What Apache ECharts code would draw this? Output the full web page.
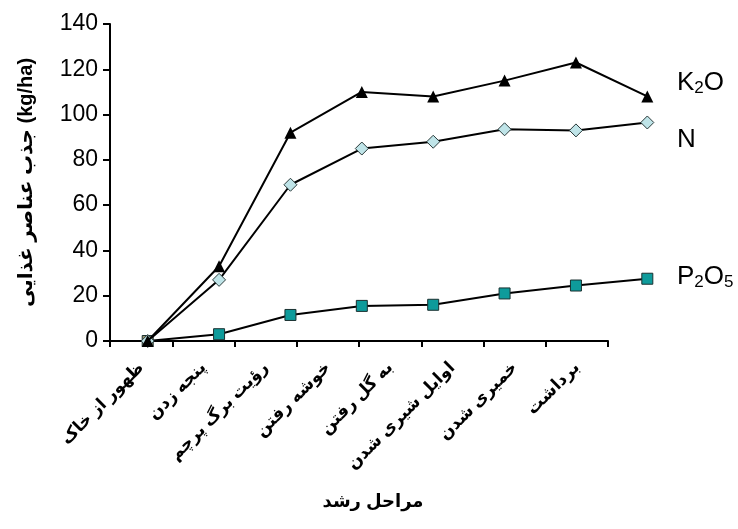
<!DOCTYPE html>
<html>
<head>
<meta charset="utf-8">
<script src="https://cdn.jsdelivr.net/npm/echarts@6/dist/echarts.min.js"></script>
<style>html,body{margin:0;padding:0;background:#fff}#c{width:738px;height:529px}</style>
</head>
<body>
<div id="c"></div>
<script>
var categories = ['ظهور از خاک','پنجه زدن','رؤیت برگ پرچم','خوشه رفتن','به گل رفتن','اوایل شیری شدن','خمیری شدن','برداشت'];
var k2o = [0, 33, 92, 110, 108, 115, 123, 108];
var nVals = [0, 27, 69, 85, 88, 93.5, 93, 96.5];
var p2o5 = [0, 3, 11.5, 15.5, 16, 21, 24.5, 27.5];
var yTicks = [0, 20, 40, 60, 80, 100, 120, 140];
var yName = 'جذب عناصر غذایی (kg/ha)';
var xName = 'مراحل رشد';

var FONT = '"Liberation Sans", Arial, "DejaVu Sans", sans-serif';
var chart = echarts.init(document.getElementById('c'));
var gTop = 24, gBottom = 188;
chart.setOption({
  animation: false,
  backgroundColor: '#fff',
  grid: [
    {left: 110, right: 130, top: gTop, bottom: gBottom},
    {left: 112, right: 55, top: gTop, bottom: gBottom}
  ],
  xAxis: [
    {type: 'category', gridIndex: 0, data: categories, boundaryGap: true,
     axisLine: {lineStyle: {color: '#000', width: 2}},
     axisTick: {show: true, length: 6, lineStyle: {color: '#000', width: 2}},
     axisLabel: {rotate: 45, margin: 24, color: '#000', fontSize: 17, fontWeight: 'bold', fontFamily: FONT, interval: 0},
     name: xName, nameLocation: 'middle', nameGap: 152,
     nameTextStyle: {color: '#000', fontSize: 18, fontWeight: 'bold', fontFamily: FONT, padding: [0, 0, 0, 28]}
    },
    {type: 'category', gridIndex: 1, data: categories, boundaryGap: true, show: false}
  ],
  yAxis: [
    {type: 'value', gridIndex: 0, min: 0, max: 140, interval: 20,
     axisLine: {show: true, lineStyle: {color: '#000', width: 2}},
     axisTick: {show: true, length: 7, lineStyle: {color: '#000', width: 2}},
     splitLine: {show: false},
     axisLabel: {color: '#000', fontSize: 23, fontFamily: FONT, margin: 12,
       formatter: function (v) { return yTicks.indexOf(v) >= 0 ? String(v) : ''; }},
     name: yName, nameLocation: 'middle', nameGap: 74, nameRotate: 90,
     nameTextStyle: {color: '#000', fontSize: 20, fontWeight: 'bold', fontFamily: FONT}
    },
    {type: 'value', gridIndex: 1, min: 0, max: 140, show: false}
  ],
  series: [
    {name: 'P2O5', type: 'line', xAxisIndex: 1, yAxisIndex: 1,
     data: p2o5.map(function (v, i) { return i === 0 ? {value: v, itemStyle: {color: '#9a9670'}} : v; }),
     symbol: 'rect', symbolSize: 11,
     lineStyle: {color: '#000', width: 2},
     itemStyle: {color: '#0e9b9b', borderColor: '#1a3030', borderWidth: 1}, z: 2},
    {name: 'N', type: 'line', xAxisIndex: 1, yAxisIndex: 1, data: nVals,
     symbol: 'diamond', symbolSize: 13,
     lineStyle: {color: '#000', width: 2},
     itemStyle: {color: '#bfe4e8', borderColor: '#2a3a3a', borderWidth: 1}, z: 3},
    {name: 'K2O', type: 'line', xAxisIndex: 1, yAxisIndex: 1, data: k2o,
     symbol: 'triangle', symbolSize: 12,
     lineStyle: {color: '#000', width: 2},
     itemStyle: {color: '#000'}, z: 4}
  ],
  graphic: [
    {type: 'text', left: 677, top: 70, style: {text: '{b|K}{s|2}{b|O}', fill: '#000',
      rich: {b: {fontSize: 26, fontFamily: FONT, fill: '#000'}, s: {fontSize: 17, fontFamily: FONT, fill: '#000', verticalAlign: 'bottom', padding: [10, 0, 0, 0]}}}},
    {type: 'text', left: 677, top: 127, style: {text: 'N', fill: '#000', font: '26px ' + FONT}},
    {type: 'text', left: 677, top: 264, style: {text: '{b|P}{s|2}{b|O}{s|5}', fill: '#000',
      rich: {b: {fontSize: 26, fontFamily: FONT, fill: '#000'}, s: {fontSize: 17, fontFamily: FONT, fill: '#000', verticalAlign: 'bottom', padding: [10, 0, 0, 0]}}}}
  ]
});
</script>
</body>
</html>
